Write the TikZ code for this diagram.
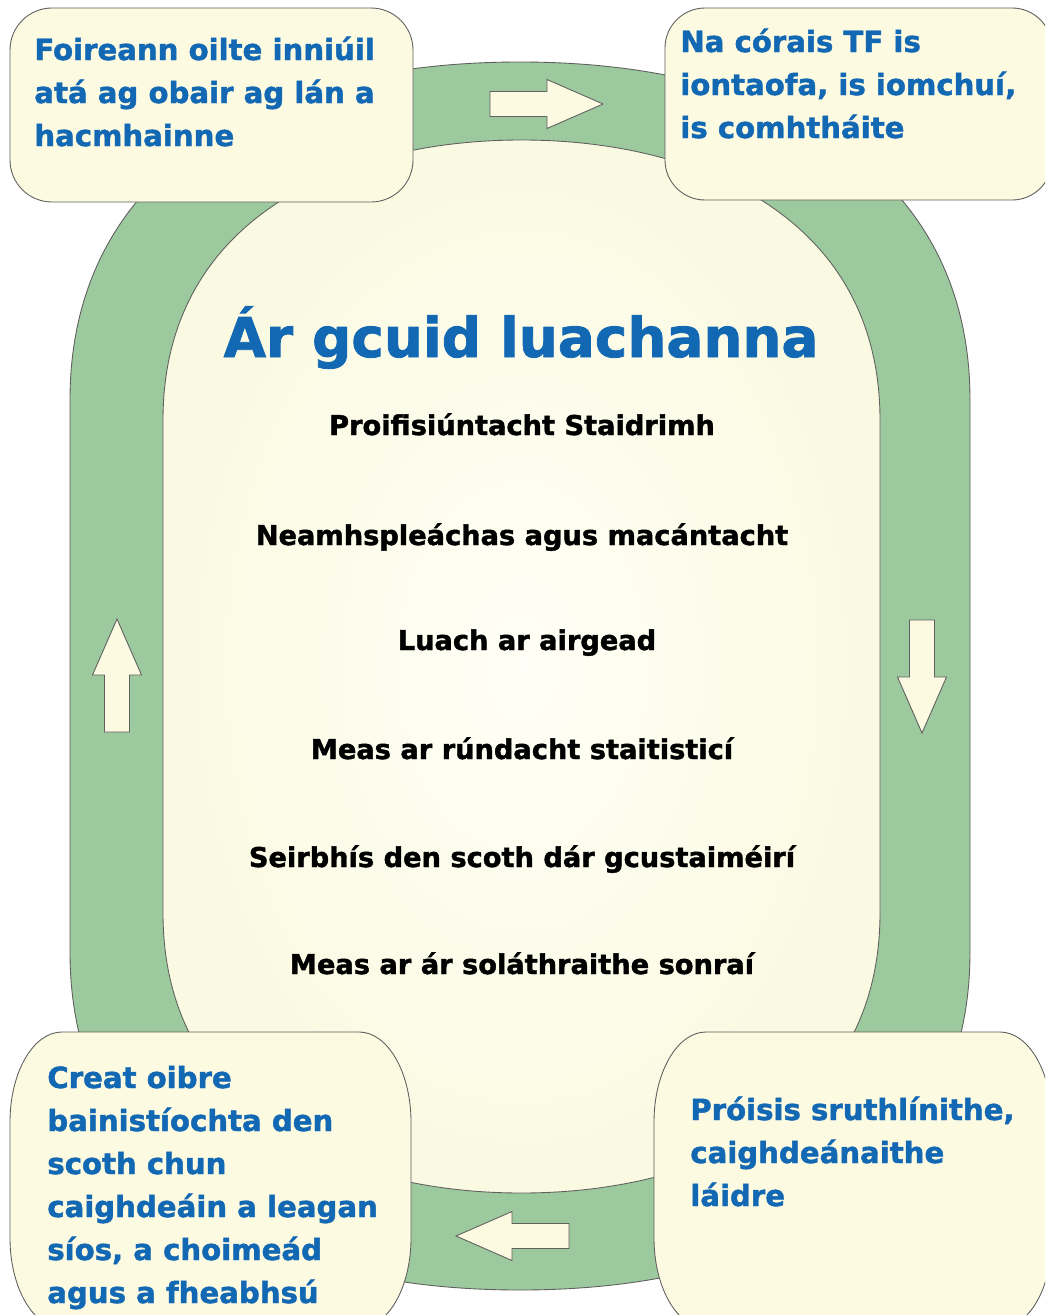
\documentclass[tikz,border=0pt]{standalone}
\usepackage{fontspec}
\setmainfont{DejaVu Sans}[BoldFeatures={FakeBold=1.5}]
\definecolor{ringgreen}{RGB}{157,201,158}
\definecolor{boxcream}{RGB}{252,250,225}
\definecolor{valblue}{RGB}{19,104,180}
\definecolor{edgegray}{RGB}{95,95,95}
\definecolor{innerlight}{RGB}{255,255,247}
\definecolor{innerdark}{RGB}{250,250,226}
\tikzset{
  edge/.style={draw=edgegray,line width=0.5pt},
  valbox/.style={edge,fill=boxcream},
  flow/.style={edge,fill=boxcream},
  bluetext/.style={text=valblue,font=\fontsize{16.6}{24}\selectfont\bfseries,inner sep=0pt,anchor=base west},
  blacktext/.style={text=black,font=\fontsize{15.5}{18}\selectfont\bfseries,inner sep=0pt,anchor=base},
  pics/flowarrow/.style={code={
    \draw[flow] (0,0) -- (-56,24.5) -- (-56,12.5) -- (-113,12.5) -- (-113,-12.5) -- (-56,-12.5) -- (-56,-24.5) -- cycle;}}
}
% box with elliptic corners: x1,y1 (top left), x2,y2 (bottom right), rx, ry
\newcommand\valuebox[6]{%
  \draw[valbox] (#1+#5,#2) -- (#3-#5,#2)
    arc[start angle=90,end angle=0,x radius=#5,y radius=#6] -- (#3,#4+#6)
    arc[start angle=0,end angle=-90,x radius=#5,y radius=#6] -- (#1+#5,#4)
    arc[start angle=270,end angle=180,x radius=#5,y radius=#6] -- (#1,#2-#6)
    arc[start angle=180,end angle=90,x radius=#5,y radius=#6] -- cycle;}
\begin{document}
\begin{tikzpicture}[x=0.02cm,y=0.02cm]
  \clip (0,0) rectangle (1045,-1315);
  \fill[white] (0,0) rectangle (1045,-1315);
  % green ring
  \path[edge,fill=ringgreen] (70,-400) .. controls (70,-180) and (250,-62) .. (520,-62)
    .. controls (790,-62) and (970,-180) .. (970,-400) -- (970,-952)
    .. controls (970,-1172) and (790,-1290) .. (520,-1290)
    .. controls (250,-1290) and (70,-1172) .. (70,-952) -- cycle;
  \path[edge,inner color=innerlight,outer color=innerdark] (163,-420) .. controls (163,-220) and (340,-140) .. (521.5,-140)
    .. controls (703,-140) and (880,-220) .. (880,-420) -- (880,-913)
    .. controls (880,-1113) and (703,-1193) .. (521.5,-1193)
    .. controls (340,-1193) and (163,-1113) .. (163,-913) -- cycle;
  % arrows round the ring
  \pic at (603,-104) {flowarrow};
  \pic[rotate=-90] at (922,-733) {flowarrow};
  \pic[rotate=180] at (456,-1236) {flowarrow};
  \pic[rotate=90] at (117,-619) {flowarrow};
  % corner boxes
  \valuebox{10}{-8}{413}{-202}{42}{42}
  \valuebox{665}{-8}{1052}{-200}{40}{40}
  \valuebox{10}{-1032}{411}{-1328}{52}{90}
  \valuebox{654}{-1032}{1052}{-1328}{52}{90}
  % title and values
  \node[text=valblue,font=\fontsize{31.2}{36}\selectfont\bfseries,inner sep=0pt,anchor=base] (title) at (521,-357) {Ár gcuid luachanna};
  \node[blacktext] (val1) at (522,-435) {Proifisiúntacht Staidrimh};
  \node[blacktext] (val2) at (522,-545) {Neamhspleáchas agus macántacht};
  \node[blacktext] (val3) at (527,-650) {Luach ar airgead};
  \node[blacktext] (val4) at (522,-759) {Meas ar rúndacht staitisticí};
  \node[blacktext] (val5) at (522,-867) {Seirbhís den scoth dár gcustaiméirí};
  \node[blacktext] (val6) at (522,-974) {Meas ar ár soláthraithe sonraí};
  % box texts
  \foreach \t [count=\i from 0] in {Foireann oilte inniúil, atá ag obair ag lán a, hacmhainne}
    \node[bluetext] (tl-\i) at (34,-60-43*\i) {\t};
  \foreach \t [count=\i from 0] in {Na córais TF is, {iontaofa, is iomchuí,}, is comhtháite}
    \node[bluetext] (tr-\i) at (680,-52-43*\i) {\t};
  \foreach \t [count=\i from 0] in {Creat oibre, bainistíochta den, scoth chun, caighdeáin a leagan, {síos, a choimeád}, agus a fheabhsú}
    \node[bluetext] (bl-\i) at (47,-1088-43*\i) {\t};
  \foreach \t [count=\i from 0] in {{Próisis sruthlínithe,}, caighdeánaithe, láidre}
    \node[bluetext] (br-\i) at (690,-1120-43*\i) {\t};
\end{tikzpicture}
\end{document}
